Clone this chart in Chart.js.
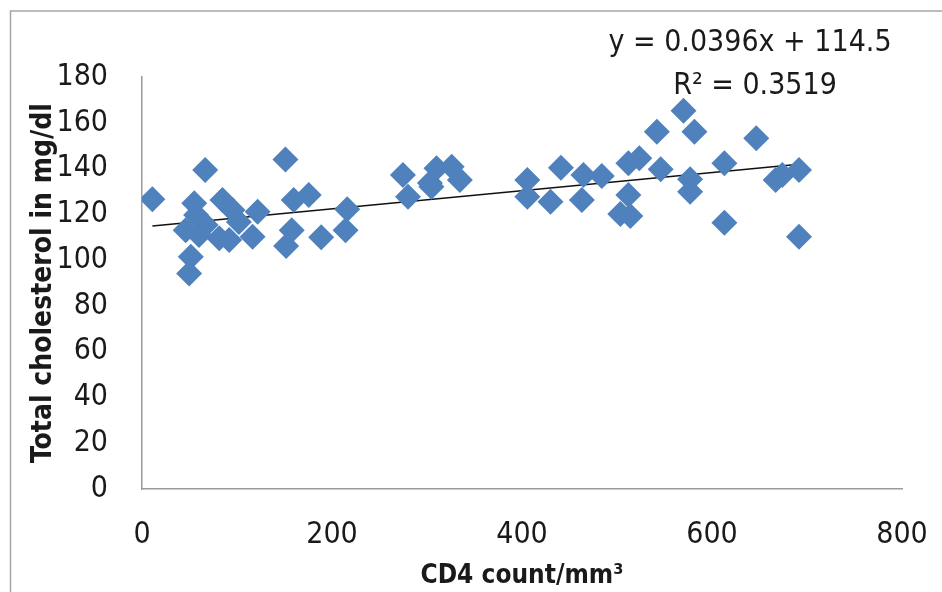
<!DOCTYPE html>
<html>
<head>
<meta charset="utf-8">
<script src="https://cdn.jsdelivr.net/npm/chart.js@4.4.1/dist/chart.umd.min.js"></script>
<style>
  body { margin: 0; background: #fff; }
  #wrap { width: 942px; height: 592px; }
</style>
</head>
<body>
<div id="wrap"><canvas id="myChart" width="942" height="592"></canvas></div>
<script>
// CD4 count vs total cholesterol
var cd4 = [10.9, 66.5, 55, 84.7, 95.3, 121.7, 46, 60, 67, 57, 81.3, 91.8, 116.4, 51.4, 49.6, 102,
  151, 159.7, 175.5, 216, 157.6, 151.7, 188.6, 214.3,
  274.7, 280, 303, 310, 326, 334.6, 304.7,
  405.6, 405.6, 441, 430, 464.7, 463, 484, 512, 523.5, 512, 503.5, 514,
  542, 546, 570, 581.5, 577, 577, 613, 613, 646.6, 667, 674, 691.6, 691.6];
var chol = [126.6, 139.4, 124.8, 126.3, 121.9, 121.1, 113.1, 111, 115.3, 119.7, 109.5, 108.8, 110.2, 101.5, 94.2, 116.6,
  144, 126.3, 128.4, 122.2, 113.1, 106.2, 110, 113.1,
  137.2, 127.7, 133.7, 140.1, 140.8, 135, 132,
  135, 127.7, 140.4, 125.5, 137.2, 126.3, 136.7, 142.3, 144.5, 128.4, 120.1, 119.3,
  156.1, 139.7, 165.3, 156.1, 135.3, 129.9, 142.3, 116.3, 153.2, 135, 137.2, 139.4, 110.2];

var xTicks = [0, 200, 400, 600, 800];
var yTicks = [0, 20, 40, 60, 80, 100, 120, 140, 160, 180];

// trendline as printed on the chart
var slope = 0.0396;
var intercept = 114.5;
var eqLines = ["y = 0.0396x + 114.5", "R\u00B2 = 0.3519"];

var fontFam = "'Liberation Sans Narrow', 'DejaVu Sans Condensed', sans-serif";

var points = [];
for (var i = 0; i < cd4.length; i++) {
  points.push({x: cd4[i], y: chol[i]});
}
var xMin = Math.min.apply(null, cd4);
var xMax = Math.max.apply(null, cd4);
var trend = [
  {x: xMin, y: slope * xMin + intercept},
  {x: xMax, y: slope * xMax + intercept}
];

var frame = {
  id: 'frame',
  beforeDraw: function(chart) {
    var ctx = chart.ctx;
    ctx.save();
    ctx.fillStyle = '#fff';
    ctx.fillRect(0, 0, chart.width, chart.height);
    ctx.strokeStyle = '#a6a6a6';
    ctx.lineWidth = 1.5;
    ctx.beginPath();
    ctx.moveTo(10.5, 592);
    ctx.lineTo(10.5, 11);
    ctx.lineTo(942, 11);
    ctx.stroke();
    ctx.restore();
  },
  afterDraw: function(chart) {
    var ctx = chart.ctx;
    ctx.save();
    ctx.fillStyle = '#1a1a1a';
    ctx.font = "30px " + fontFam;
    ctx.textAlign = 'center';
    ctx.textBaseline = 'middle';
    ctx.fillText(eqLines[0], 750, 43);
    ctx.fillText(eqLines[1], 755, 86);
    ctx.restore();
  }
};

new Chart(document.getElementById('myChart'), {
  type: 'scatter',
  data: {
    datasets: [
      {
        label: 'Cholesterol',
        data: points,
        pointStyle: 'rectRot',
        pointRadius: 13,
        pointHoverRadius: 13,
        backgroundColor: '#4f81bd',
        borderColor: '#4f81bd',
        borderWidth: 0
      },
      {
        label: 'Trend',
        type: 'line',
        data: trend,
        borderColor: '#111',
        borderWidth: 1.5,
        pointRadius: 0,
        fill: false
      }
    ]
  },
  options: {
    responsive: false,
    animation: false,
    layout: { padding: { left: 0, right: 0, top: 77, bottom: 0 } },
    plugins: { legend: { display: false }, tooltip: { enabled: false } },
    scales: {
      x: {
        type: 'linear',
        min: 0,
        max: 800,
        afterBuildTicks: function(s) { s.ticks = xTicks.map(function(v) { return {value: v}; }); },
        afterFit: function(s) { s.height = 103; s.paddingRight = 40; s.paddingLeft = 0; },
        grid: { display: false, drawTicks: false },
        border: { color: '#9a9a9a', width: 1.5 },
        ticks: {
          padding: 28,
          maxRotation: 0,
          color: '#1a1a1a',
          font: { family: fontFam, size: 30 }
        },
        title: {
          display: true,
          text: 'CD4 count/mm\u00B3',
          color: '#1a1a1a',
          font: { family: fontFam, size: 26, weight: 'bold' },
          padding: { top: 0, bottom: 0 }
        }
      },
      y: {
        min: 0,
        max: 180,
        afterBuildTicks: function(s) { s.ticks = yTicks.map(function(v) { return {value: v}; }); },
        afterFit: function(s) { s.width = 142; },
        grid: { display: false, drawTicks: false },
        border: { color: '#9a9a9a', width: 1.5 },
        ticks: {
          padding: 34,
          color: '#1a1a1a',
          font: { family: fontFam, size: 30 }
        },
        title: {
          display: true,
          text: 'Total cholesterol in mg/dl',
          color: '#1a1a1a',
          font: { family: fontFam, size: 28, weight: 'bold' },
          padding: { top: 27, bottom: 0 }
        }
      }
    }
  },
  plugins: [frame]
});
</script>
</body>
</html>
